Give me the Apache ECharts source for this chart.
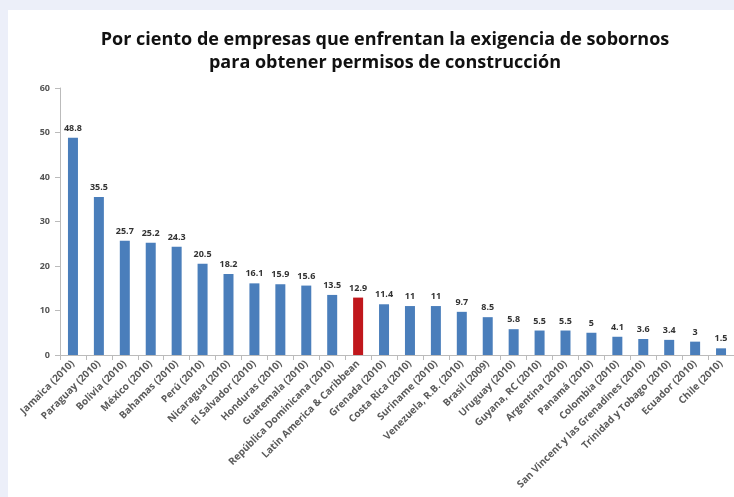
<!DOCTYPE html>
<html>
<head>
<meta charset="utf-8">
<script src="https://cdn.jsdelivr.net/npm/echarts@6/dist/echarts.min.js"></script>
<style>
* { margin: 0; padding: 0; }
body { background-color: #eceff9; }
#panel {
  position: absolute;
  left: 8px;
  top: 10px;
  width: 726px;
  height: 487px;
  background-color: #fff;
}
</style>
</head>
<body>
<div id="panel"></div>
<script>
var countries = ['Jamaica (2010)', 'Paraguay (2010)', 'Bolivia (2010)', 'México (2010)', 'Bahamas (2010)',
  'Perú (2010)', 'Nicaragua (2010)', 'El Salvador (2010)', 'Honduras (2010)', 'Guatemala (2010)',
  'República Dominicana (2010)', 'Latin America & Caribbean', 'Grenada (2010)', 'Costa Rica (2010)',
  'Suriname (2010)', 'Venezuela, R.B. (2010)', 'Brasil (2009)', 'Uruguay (2010)', 'Guyana, RC (2010)',
  'Argentina (2010)', 'Panamá (2010)', 'Colombia (2010)', 'San Vincent y las Grenadines (2010)',
  'Trinidad y Tobago (2010)', 'Ecuador (2010)', 'Chile (2010)'];
var percents = [48.8, 35.5, 25.7, 25.2, 24.3, 20.5, 18.2, 16.1, 15.9, 15.6, 13.5, 12.9, 11.4, 11, 11,
  9.7, 8.5, 5.8, 5.5, 5.5, 5, 4.1, 3.6, 3.4, 3, 1.5];
var highlight = 'Latin America & Caribbean';
var yTicks = [0, 10, 20, 30, 40, 50, 60];

var myChart = echarts.init(document.getElementById('panel'));
myChart.setOption({
  animation: false,
  title: {
    text: 'Por ciento de empresas que enfrentan la exigencia de sobornos\npara obtener permisos de construcción',
    left: 372,
    top: 13,
    textAlign: 'center',
    textStyle: {
      fontFamily: 'Open Sans',
      fontSize: 18,
      fontWeight: 'bold',
      color: '#111',
      lineHeight: 23
    }
  },
  grid: {
    left: 52,
    right: -4,
    top: 78,
    bottom: 142
  },
  xAxis: {
    type: 'category',
    data: countries,
    axisLine: { lineStyle: { color: '#bbb' } },
    axisTick: { show: true, lineStyle: { color: '#bbb' } },
    axisLabel: {
      interval: 0,
      rotate: 45,
      margin: 7,
      fontFamily: 'Open Sans',
      fontSize: 10,
      fontWeight: 'bold',
      color: '#5a5a5a'
    }
  },
  yAxis: {
    type: 'value',
    min: yTicks[0],
    max: yTicks[yTicks.length - 1],
    interval: 10,
    splitLine: { show: false },
    axisLine: { show: true, lineStyle: { color: '#bbb' } },
    axisTick: { show: true, lineStyle: { color: '#bbb' } },
    axisLabel: {
      fontFamily: 'Open Sans',
      fontSize: 9,
      fontWeight: 'bold',
      color: '#555',
      margin: 10
    }
  },
  series: [{
    type: 'bar',
    barWidth: 10,
    data: percents.map(function (v, i) {
      return {
        value: v,
        itemStyle: { color: countries[i] === highlight ? '#c0171c' : '#4a7ebb' }
      };
    }),
    label: {
      show: true,
      position: 'top',
      distance: 5,
      fontFamily: 'Open Sans',
      fontSize: 9,
      fontWeight: 'bold',
      color: '#333'
    }
  }]
});
</script>
</body>
</html>
